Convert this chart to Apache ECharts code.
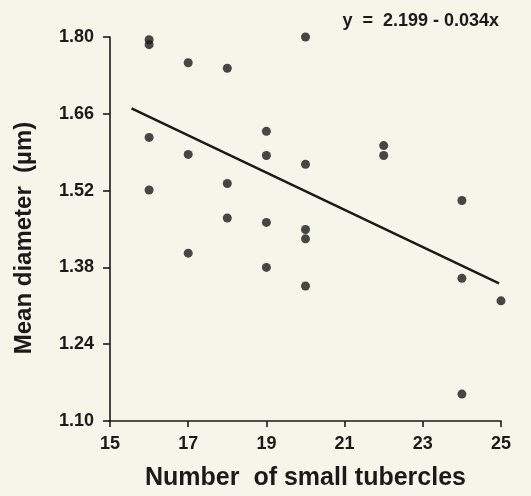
<!DOCTYPE html>
<html>
<head>
<meta charset="utf-8">
<script src="https://cdn.jsdelivr.net/npm/echarts@6/dist/echarts.min.js"></script>
<style>
  html, body { margin: 0; padding: 0; background: #f6f5ea; }
  #main { width: 531px; height: 496px; }
</style>
</head>
<body>
<div id="main"></div>
<script>
// tubercle counts and mean diameters
var tubercles = [16, 16, 17, 18, 20, 16, 17, 19, 19, 20, 22, 22, 16, 18, 18, 19, 20, 20, 24, 17, 19, 20, 24, 25, 24];
var diameters = [1.795, 1.786, 1.753, 1.743, 1.800, 1.617, 1.586, 1.628, 1.584, 1.568, 1.602, 1.584, 1.521, 1.533, 1.470, 1.462, 1.449, 1.432, 1.502, 1.406, 1.380, 1.346, 1.360, 1.319, 1.149];
// fitted line ends (y = 2.199 - 0.034x)
var fitX = [15.55, 24.95];
var fitY = [1.670, 1.351];
var equation = 'y  =  2.199 - 0.034x';

var points = tubercles.map(function (x, i) { return [x, diameters[i]]; });
var fit = fitX.map(function (x, i) { return [x, fitY[i]]; });

var font = 'Liberation Sans, Arial, Helvetica, sans-serif';
var ink = '#1a1a1a';

var chart = echarts.init(document.getElementById('main'));
chart.setOption({
  backgroundColor: '#f6f5ea',
  animation: false,
  title: {
    text: equation,
    right: 27,
    top: 7,
    textStyle: { fontFamily: font, fontSize: 18, fontWeight: 'bold', color: ink }
  },
  grid: { left: 110, right: 30, top: 37, bottom: 73 },
  xAxis: {
    type: 'value',
    min: 15, max: 25, interval: 2,
    name: 'Number  of small tubercles',
    nameLocation: 'middle',
    nameGap: 45,
    nameTextStyle: { fontFamily: font, fontSize: 25, fontWeight: 'bold', color: ink },
    axisLine: { lineStyle: { color: ink, width: 1.6 } },
    axisTick: { length: 6, lineStyle: { color: ink, width: 1.6 } },
    axisLabel: { fontFamily: font, fontSize: 18, fontWeight: 'bold', color: ink, margin: 14 },
    splitLine: { show: false }
  },
  yAxis: {
    type: 'value',
    min: 1.10, max: 1.80, interval: 0.14,
    name: 'Mean diameter  (\u00b5m)',
    nameLocation: 'middle',
    nameGap: 74,
    nameTextStyle: { fontFamily: font, fontSize: 24, fontWeight: 'bold', color: ink, padding: [0, 18, 0, 0] },
    axisLine: { show: true, lineStyle: { color: ink, width: 1.6 } },
    axisTick: { show: true, length: 7, lineStyle: { color: ink, width: 1.6 } },
    axisLabel: {
      fontFamily: font, fontSize: 18, fontWeight: 'bold', color: ink, margin: 16,
      formatter: function (v) { return v.toFixed(2); }
    },
    splitLine: { show: false }
  },
  series: [
    {
      type: 'line',
      data: fit,
      symbol: 'none',
      lineStyle: { color: ink, width: 2.4 },
      z: 1
    },
    {
      type: 'scatter',
      data: points,
      symbol: 'circle',
      symbolSize: 9,
      itemStyle: { color: ink },
      z: 2
    }
  ]
});
</script>
</body>
</html>
